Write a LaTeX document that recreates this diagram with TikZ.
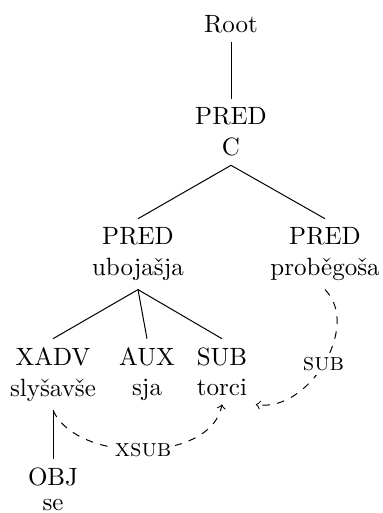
\documentclass[tikz,border=0pt]{standalone}
\usepackage{fontspec}
\usetikzlibrary{positioning}
\begin{document}
\begin{tikzpicture}[x=0.4pt,y=-0.4pt,
  lab/.style={anchor=north,inner sep=3.33pt},
  wrd/.style={inner sep=3.33pt},
  arcl/.style={font=\scshape,fill=white,inner sep=1.5pt},
  dep/.style={dashed,->}]
\useasboundingbox (0,0) rectangle (382,513);
% nodes
\node[lab] (root) at (231,6.7) {Root};
\node[lab] (predc) at (231,98.7) {PRED};
\node[wrd,below=-1.8pt of predc] (wc) {C};
\node[lab] (predu) at (138,218.7) {PRED};
\node[wrd,below=-1.8pt of predu] (wu) {ubojašja};
\node[lab] (predp) at (325,218.7) {PRED};
\node[wrd,below=-1.8pt of predp] (wp) {proběgoša};
\node[lab] (xadv) at (53,338.7) {XADV};
\node[wrd,below=-1.8pt of xadv] (wx) {slyšavše};
\node[lab] (aux) at (147,338.7) {AUX};
\node[wrd,below=-1.8pt of aux] (wa) {sja};
\node[lab] (sub) at (222,338.7) {SUB};
\node[wrd,below=-1.8pt of sub] (ws) {torci};
\node[lab] (obj) at (wx.south |- 0,458.7) {OBJ};
\node[wrd,below=-1.8pt of obj] (wo) {se};
% tree edges
\draw (root.south) -- (predc.north);
\draw (wc.south) -- (predu.north);
\draw (wc.south) -- (predp.north);
\draw (wu.south) -- (xadv.north);
\draw (wu.south) -- (aux.north);
\draw (wu.south) -- (sub.north);
\draw (wx.south) -- (obj.north);
% dependency arcs
\draw[dep] (wp.south) to[out=-45,in=-10] node[arcl,pos=0.5] {sub} (ws.south east);
\draw[dep] (wx.south) to[out=-65,in=-100,looseness=0.9] node[arcl,pos=0.5] {xsub} (ws.south);
\end{tikzpicture}
\end{document}
